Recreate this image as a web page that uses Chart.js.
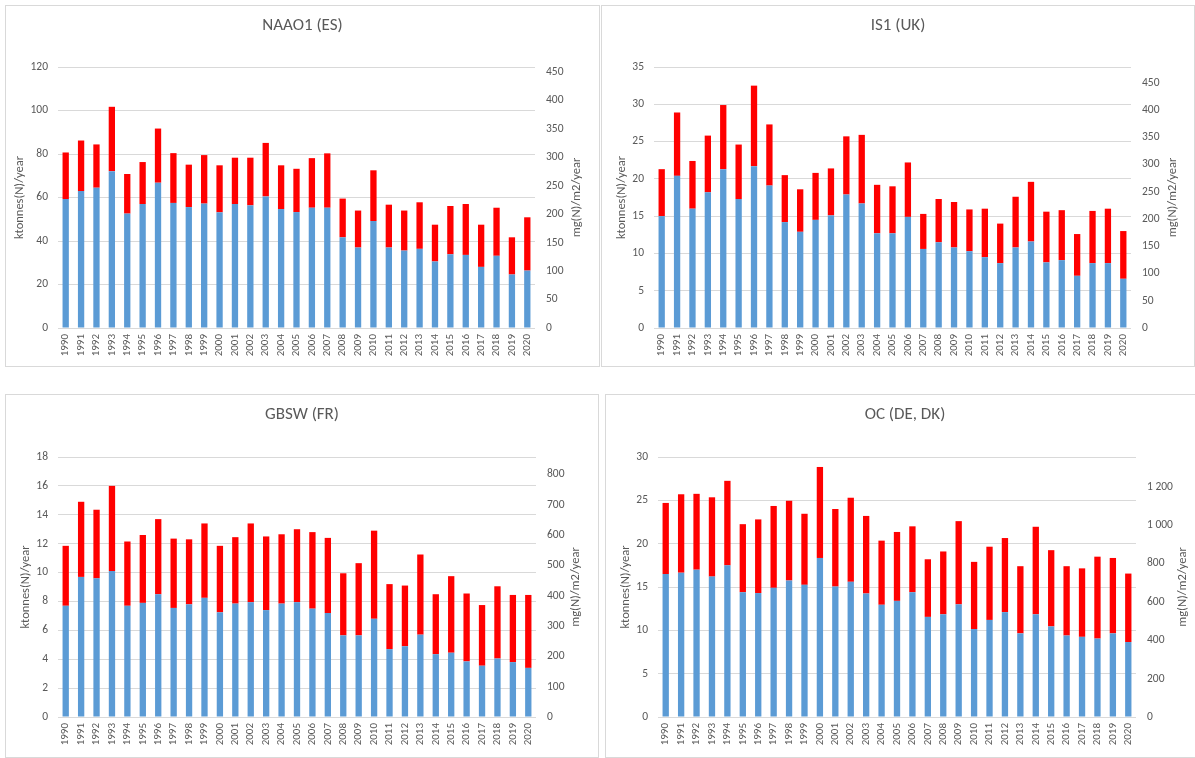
<!DOCTYPE html>
<html>
<head>
<meta charset="utf-8">
<script src="https://cdn.jsdelivr.net/npm/chart.js@4.4.1/dist/chart.umd.min.js"></script>
<style>
    body { margin: 0; background: #fff; width: 1195px; height: 758px; position: relative; overflow: hidden; }
    .panel { position: absolute; border: 1px solid #d9d9d9; box-sizing: border-box; overflow: hidden; }
    .panel canvas { display: block; }
</style>
</head>
<body>
<script>
// Years on the category axis
const years = ['1990', '1991', '1992', '1993', '1994', '1995', '1996', '1997', '1998', '1999',
    '2000', '2001', '2002', '2003', '2004', '2005', '2006', '2007', '2008', '2009',
    '2010', '2011', '2012', '2013', '2014', '2015', '2016', '2017', '2018', '2019', '2020'];

// NAAO1 (ES) - ktonnes(N)/year, lower (blue) and upper (red) part of each bar
const naaoBlue = [59.3, 63.0, 64.5, 72.1, 52.6, 57.0, 66.8, 57.5, 55.6, 57.2, 53.2, 57.0, 56.4, 60.5, 54.7, 53.3,
    55.3, 55.3, 41.7, 37.0, 49.2, 37.0, 35.6, 36.4, 30.6, 33.9, 33.6, 28.1, 33.2, 24.6, 26.4];
const naaoRed = [21.4, 23.2, 19.9, 29.6, 18.2, 19.3, 24.9, 22.9, 19.5, 22.3, 21.6, 21.3, 21.9, 24.6, 20.1, 19.9,
    22.8, 25.0, 17.8, 17.0, 23.3, 19.7, 18.4, 21.4, 16.9, 22.2, 23.4, 19.4, 22.1, 17.1, 24.5];
const naaoLeftTicks = [0, 20, 40, 60, 80, 100, 120];
const naaoRightTicks = [0, 50, 100, 150, 200, 250, 300, 350, 400, 450];
const naaoRightMax = 459;

// IS1 (UK)
const is1Blue = [15.0, 20.4, 16.0, 18.2, 21.3, 17.3, 21.7, 19.1, 14.2, 12.9, 14.5, 15.1, 17.9, 16.7, 12.7, 12.7,
    14.9, 10.6, 11.5, 10.8, 10.3, 9.5, 8.7, 10.8, 11.6, 8.8, 9.1, 7.0, 8.7, 8.7, 6.6];
const is1Red = [6.3, 8.5, 6.4, 7.6, 8.6, 7.3, 10.8, 8.2, 6.3, 5.7, 6.3, 6.3, 7.8, 9.2, 6.5, 6.3,
    7.3, 4.7, 5.8, 6.1, 5.6, 6.5, 5.3, 6.8, 8.0, 6.8, 6.7, 5.6, 7.0, 7.3, 6.4];
const is1LeftTicks = [0, 5, 10, 15, 20, 25, 30, 35];
const is1RightTicks = [0, 50, 100, 150, 200, 250, 300, 350, 400, 450];
const is1RightMax = 479;

// GBSW (FR)
const gbswBlue = [7.7, 9.7, 9.6, 10.1, 7.7, 7.9, 8.5, 7.55, 7.8, 8.25, 7.25, 7.85, 7.95, 7.4, 7.85, 7.95,
    7.5, 7.2, 5.65, 5.65, 6.8, 4.7, 4.9, 5.7, 4.35, 4.45, 3.85, 3.55, 4.05, 3.8, 3.4];
const gbswRed = [4.15, 5.2, 4.75, 5.9, 4.45, 4.7, 5.2, 4.8, 4.5, 5.15, 4.6, 4.6, 5.45, 5.1, 4.8, 5.05,
    5.3, 5.2, 4.3, 5.0, 6.1, 4.5, 4.2, 5.55, 4.15, 5.3, 4.7, 4.2, 5.0, 4.65, 5.05];
const gbswLeftTicks = [0, 2, 4, 6, 8, 10, 12, 14, 16, 18];
const gbswRightTicks = [0, 100, 200, 300, 400, 500, 600, 700, 800];
const gbswRightMax = 858;

// OC (DE, DK)
const ocBlue = [16.5, 16.65, 17.0, 16.2, 17.5, 14.4, 14.3, 14.9, 15.75, 15.25, 18.35, 15.05, 15.6, 14.25, 12.95, 13.4,
    14.4, 11.55, 11.85, 13.0, 10.15, 11.2, 12.1, 9.65, 11.85, 10.45, 9.4, 9.25, 9.05, 9.65, 8.65];
const ocRed = [8.2, 9.05, 8.75, 9.15, 9.75, 7.85, 8.5, 9.45, 9.2, 8.2, 10.5, 8.95, 9.7, 8.95, 7.4, 7.95,
    7.6, 6.65, 7.25, 9.6, 7.75, 8.45, 8.55, 7.75, 10.1, 8.8, 8.0, 7.9, 9.45, 8.7, 7.9];
const ocLeftTicks = [0, 5, 10, 15, 20, 25, 30];
const ocRightTicks = [0, 200, 400, 600, 800, 1000, 1200];
const ocRightMax = 1356;

const FONT = 'Carlito, Lato, sans-serif';
const TEXT = '#595959';
const GRID = '#d9d9d9';

// thousands separated by a space, as in the original
const fmt = v => String(v).replace(/\B(?=(\d{3})+(?!\d))/g, ' ');

// right axis title reads bottom to top like the left one
const rightTitle = {
    id: 'rightTitle',
    afterDraw(chart, args, opts) {
        const { ctx, chartArea } = chart;
        ctx.save();
        ctx.translate(opts.x, (chartArea.top + chartArea.bottom) / 2);
        ctx.rotate(-Math.PI / 2);
        ctx.font = `12.5px ${FONT}`;
        ctx.fillStyle = TEXT;
        ctx.textAlign = 'center';
        ctx.textBaseline = 'middle';
        ctx.fillText(opts.text, 0, 0);
        ctx.restore();
    }
};

function buildPanel(cfg) {
    const wrap = document.createElement('div');
    wrap.className = 'panel';
    wrap.style.left = cfg.box.x + 'px';
    wrap.style.top = cfg.box.y + 'px';
    wrap.style.width = cfg.box.w + 'px';
    wrap.style.height = cfg.box.h + 'px';
    const canvas = document.createElement('canvas');
    const cw = cfg.box.w - 2, ch = cfg.box.h - 2;
    canvas.width = cw;
    canvas.height = ch;
    canvas.style.width = cw + 'px';
    canvas.style.height = ch + 'px';
    wrap.appendChild(canvas);
    document.body.appendChild(wrap);

    // canvas origin in page coords
    const ox = cfg.box.x + 1, oy = cfg.box.y + 1;
    const a = cfg.area;
    const leftW = a.L - ox;
    const rightW = ox + cw - a.R;
    const topH = a.T - oy;
    const bottomH = oy + ch - a.B;

    const titleSize = 17, titleLH = titleSize * 1.2;
    const titlePadTop = cfg.titleY - oy - titleLH / 2;
    const titlePadBottom = topH - titleLH - titlePadTop;
    const axisTitleLH = 12.5 * 1.2;

    const barOpts = { stack: 's', barPercentage: 0.41, categoryPercentage: 1, borderWidth: 0 };

    return new Chart(canvas, {
        type: 'bar',
        data: {
            labels: years,
            datasets: [
                { label: 'blue', data: cfg.blue, backgroundColor: '#5b9bd5', ...barOpts },
                { label: 'red', data: cfg.red, backgroundColor: '#ff0000', ...barOpts }
            ]
        },
        options: {
            responsive: false,
            animation: false,
            devicePixelRatio: 1,
            layout: { padding: 0 },
            plugins: {
                legend: { display: false },
                tooltip: { enabled: false },
                title: {
                    display: true,
                    text: cfg.title,
                    color: TEXT,
                    font: { family: FONT, size: titleSize, weight: 'normal', lineHeight: 1.2 },
                    padding: { top: titlePadTop, bottom: titlePadBottom }
                },
                rightTitle: { text: 'mg(N)/m2/year', x: cfg.rightTitleX - ox }
            },
            scales: {
                x: {
                    stacked: true,
                    grid: { display: false, drawTicks: false },
                    border: { display: false },
                    ticks: {
                        autoSkip: false,
                        maxRotation: 90,
                        minRotation: 90,
                        padding: 6,
                        color: TEXT,
                        font: { family: FONT, size: 11 }
                    },
                    afterFit: s => { s.height = bottomH; }
                },
                y: {
                    stacked: true,
                    position: 'left',
                    min: 0,
                    max: cfg.leftTicks[cfg.leftTicks.length - 1],
                    afterBuildTicks: s => { s.ticks = cfg.leftTicks.map(v => ({ value: v })); },
                    grid: { color: GRID, lineWidth: 1, drawTicks: false },
                    border: { display: false },
                    ticks: { padding: 10, color: TEXT, font: { family: FONT, size: 11.5 } },
                    title: {
                        display: true,
                        text: 'ktonnes(N)/year',
                        color: TEXT,
                        font: { family: FONT, size: 12.5, lineHeight: 1.2 },
                        padding: { top: cfg.leftTitleX - ox - axisTitleLH / 2, bottom: 0 }
                    },
                    afterFit: s => { s.width = leftW; }
                },
                y2: {
                    type: 'linear',
                    position: 'right',
                    min: 0,
                    max: cfg.rightMax,
                    afterBuildTicks: s => { s.ticks = cfg.rightTicks.map(v => ({ value: v })); },
                    grid: { display: false, drawTicks: false },
                    border: { display: false },
                    ticks: { padding: 11, color: TEXT, font: { family: FONT, size: 11.5 }, callback: v => fmt(v) },
                    afterFit: s => { s.width = rightW; }
                }
            }
        },
        plugins: [rightTitle]
    });
}

buildPanel({
    title: 'NAAO1 (ES)', blue: naaoBlue, red: naaoRed,
    leftTicks: naaoLeftTicks, rightTicks: naaoRightTicks, rightMax: naaoRightMax,
    box: { x: 5, y: 5, w: 595, h: 362 }, area: { L: 58, R: 535, T: 67, B: 328 },
    titleY: 26, leftTitleX: 20, rightTitleX: 577
});
buildPanel({
    title: 'IS1 (UK)', blue: is1Blue, red: is1Red,
    leftTicks: is1LeftTicks, rightTicks: is1RightTicks, rightMax: is1RightMax,
    box: { x: 601, y: 5, w: 594, h: 362 }, area: { L: 654, R: 1131, T: 67, B: 328 },
    titleY: 26, leftTitleX: 622, rightTitleX: 1173
});
buildPanel({
    title: 'GBSW (FR)', blue: gbswBlue, red: gbswRed,
    leftTicks: gbswLeftTicks, rightTicks: gbswRightTicks, rightMax: gbswRightMax,
    box: { x: 5, y: 394, w: 594, h: 364 }, area: { L: 58, R: 536, T: 457, B: 717 },
    titleY: 415, leftTitleX: 26, rightTitleX: 576
});
buildPanel({
    title: 'OC (DE, DK)', blue: ocBlue, red: ocRed,
    leftTicks: ocLeftTicks, rightTicks: ocRightTicks, rightMax: ocRightMax,
    box: { x: 605, y: 394, w: 600, h: 364 }, area: { L: 658, R: 1136, T: 457, B: 717 },
    titleY: 415, leftTitleX: 626, rightTitleX: 1183
});
</script>
</body>
</html>
